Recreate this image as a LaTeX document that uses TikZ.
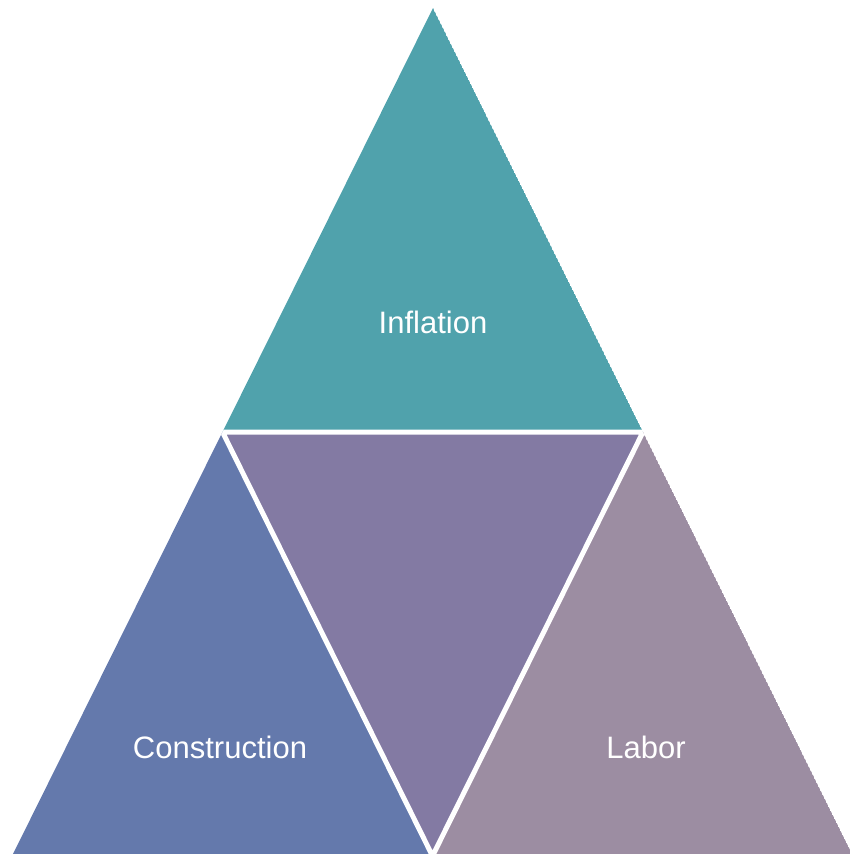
\documentclass[tikz,border=0pt]{standalone}
\usepackage{fontspec}
\setmainfont{Liberation Sans}
\usetikzlibrary{calc}
\definecolor{cTop}{RGB}{80,162,172}
\definecolor{cLeft}{RGB}{100,121,172}
\definecolor{cMid}{RGB}{131,122,163}
\definecolor{cRight}{RGB}{156,141,162}
\begin{document}
\begin{tikzpicture}[x=1pt,y=-1pt,
  tri/.style={draw=white,line width=5pt,line join=miter},
  lbl/.style={text=white,font=\fontsize{31}{36}\selectfont,anchor=base}]
\useasboundingbox (0,0) rectangle (850,854);
\coordinate (A) at (433,8);
\coordinate (L) at (12,856);
\coordinate (R) at (853,856);
\coordinate (ML) at ($(A)!0.5!(L)$);
\coordinate (MR) at ($(A)!0.5!(R)$);
\coordinate (MB) at ($(L)!0.5!(R)$);
\begin{scope}
\clip (A) -- (L) -- (R) -- cycle;
\fill[cTop] (A) -- (ML) -- (MR) -- cycle;
\fill[cLeft] (ML) -- (L) -- (MB) -- cycle;
\fill[cMid] (ML) -- (MR) -- (MB) -- cycle;
\fill[cRight] (MR) -- (MB) -- (R) -- cycle;
\draw[tri] (ML) -- (MR) -- (MB) -- cycle;
\end{scope}
\node[lbl] (inf) at (433,333) {Inflation};
\node[lbl] (con) at (220,758) {Construction};
\node[lbl] (lab) at (646,758) {Labor};
\end{tikzpicture}
\end{document}
